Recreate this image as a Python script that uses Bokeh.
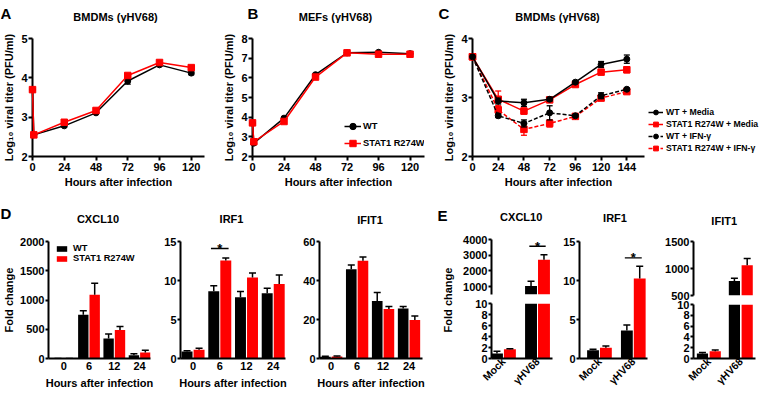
import numpy as np
from bokeh.plotting import figure
from bokeh.layouts import row, column
from bokeh.models import FixedTicker, Legend, LegendItem, Range1d
from bokeh.embed import file_html
from bokeh.resources import INLINE
from bokeh.core.properties import value

FONT = "Liberation Sans"
RED = "#ff0000"
BLACK = "#000000"

# ---------------- data ----------------
hours_AB = [0, 1, 24, 48, 72, 96, 120]
hour_ticks_AB = [0, 24, 48, 72, 96, 120]
A_wt = [3.70, 2.55, 2.78, 3.11, 3.92, 4.33, 4.12]
A_wt_err = [0.0, 0.02, 0.03, 0.03, 0.08, 0.03, 0.04]
A_mut = [3.70, 2.55, 2.87, 3.17, 4.06, 4.39, 4.26]
A_mut_err = [0.0, 0.02, 0.03, 0.03, 0.04, 0.03, 0.04]

B_wt = [3.70, 2.68, 3.95, 6.16, 7.27, 7.30, 7.23]
B_wt_err = [0.0, 0.05, 0.05, 0.05, 0.03, 0.03, 0.03]
B_mut = [3.71, 2.75, 3.78, 6.04, 7.27, 7.20, 7.20]
B_mut_err = [0.0, 0.05, 0.05, 0.05, 0.03, 0.03, 0.03]

hours_C = [0, 24, 48, 72, 96, 120, 144]
C_wt_media = [3.69, 2.94, 2.91, 2.97, 3.26, 3.56, 3.65]
C_wt_media_err = [0.0, 0.05, 0.06, 0.03, 0.02, 0.05, 0.07]
C_mut_media = [3.69, 2.97, 2.77, 2.96, 3.22, 3.43, 3.47]
C_mut_media_err = [0.0, 0.14, 0.05, 0.03, 0.02, 0.04, 0.05]
C_wt_ifn = [3.69, 2.69, 2.56, 2.74, 2.69, 3.03, 3.14]
C_wt_ifn_err = [0.0, 0.03, 0.06, 0.12, 0.02, 0.05, 0.02]
C_mut_ifn = [3.69, 2.79, 2.46, 2.56, 2.68, 2.99, 3.10]
C_mut_ifn_err = [0.0, 0.07, 0.10, 0.06, 0.04, 0.04, 0.03]

D_hours = ["0", "6", "12", "24"]
D_cxcl10_wt = [1.0, 749, 343, 57]
D_cxcl10_wt_err = [0.5, 68, 74, 23]
D_cxcl10_mut = [1.2, 1091, 486, 103]
D_cxcl10_mut_err = [0.5, 195, 63, 40]
D_irf1_wt = [0.90, 8.61, 7.84, 8.36]
D_irf1_wt_err = [0.08, 0.73, 0.76, 0.64]
D_irf1_mut = [1.11, 12.56, 10.40, 9.56]
D_irf1_mut_err = [0.22, 0.34, 0.57, 1.14]
D_ifit1_wt = [0.9, 45.8, 29.5, 25.7]
D_ifit1_wt_err = [0.2, 2.2, 4.3, 1.0]
D_ifit1_mut = [1.0, 50.1, 25.4, 19.7]
D_ifit1_mut_err = [0.3, 2.0, 1.3, 2.1]

E_groups = ["Mock", "γHV68"]
E_cxcl10_wt = [0.90, 1045]
E_cxcl10_wt_err = [0.43, 295]
E_cxcl10_mut = [1.69, 2715]
E_cxcl10_mut_err = [0.10, 321]
E_irf1_wt = [1.05, 3.59]
E_irf1_wt_err = [0.12, 0.72]
E_irf1_mut = [1.39, 10.27]
E_irf1_mut_err = [0.21, 1.56]
E_ifit1_wt = [0.91, 770]
E_ifit1_wt_err = [0.19, 48]
E_ifit1_mut = [1.34, 1062]
E_ifit1_mut_err = [0.24, 125]

# significance marks: (group index, height)
sig_D_irf1 = (1, 14.1)
sig_E_cxcl10 = (1, 3570)
sig_E_irf1 = (1, 12.9)

top_letters = ["A", "B", "C"]
top_titles = ["BMDMs (γHV68)", "MEFs (γHV68)", "BMDMs (γHV68)"]
bottom_letters = ["D", "E"]
bottom_titles = ["CXCL10", "IRF1", "IFIT1", "CXCL10", "IRF1", "IFIT1"]
legend_AB = ["WT", "STAT1 R274W"]
legend_C = ["WT + Media", "STAT1 R274W + Media", "WT + IFN-γ", "STAT1 R274W + IFN-γ"]

# ---------------- layout constants (pixels) ----------------
W = 761
TOP_STRIP_H = 30
TOP_ROW_H = 160
BOT_STRIP_H = 44
BOT_ROW_H = 159
# (x, vertical centre) inside the strips
top_letter_pos = [(0, 13.3), (247, 13.3), (438, 13.3)]
top_title_pos = [(115, 16.0), (335, 16.0), (557, 16.0)]
bottom_letter_pos = [(0, 22.8), (437, 24.5)]
bottom_title_pos = [(97.5, 28.6), (231, 28.5), (369.5, 29.3), (520.7, 26.2), (614.5, 27.2), (723.7, 30.7)]


# ---------------- helpers ----------------
def base_fig(width, height, xr, yr, borders):
    left, right, top, bottom = borders
    p = figure(width=width, height=height, x_range=Range1d(*xr), y_range=Range1d(*yr),
               output_backend="svg", toolbar_location=None, tools="",
               min_border_left=left, min_border_right=right,
               min_border_top=top, min_border_bottom=bottom)
    p.xgrid.visible = False
    p.ygrid.visible = False
    p.outline_line_color = None
    p.background_fill_color = "white"
    p.border_fill_color = "white"
    for ax in p.axis:
        ax.axis_line_width = 2
        ax.axis_line_color = BLACK
        ax.major_tick_line_width = 2
        ax.major_tick_line_color = BLACK
        ax.major_tick_in = 0
        ax.major_tick_out = 4
        ax.minor_tick_line_color = None
        ax.minor_tick_out = 0
        ax.major_label_text_font = FONT
        ax.major_label_text_font_style = "bold"
        ax.major_label_text_font_size = "11px"
        ax.major_label_text_color = BLACK
        ax.major_label_standoff = 1
        ax.axis_label_text_font = FONT
        ax.axis_label_text_font_style = "bold"
        ax.axis_label_text_font_size = "11px"
        ax.axis_label_text_color = BLACK
    return p


def strip(height, letters, letter_pos, titles, title_pos):
    p = figure(width=W, height=height, x_range=Range1d(0, W), y_range=Range1d(height, 0),
               output_backend="svg", toolbar_location=None, tools="", min_border=0,
               x_axis_type=None, y_axis_type=None)
    p.grid.visible = False
    p.outline_line_color = None
    p.text(x=[q[0] for q in letter_pos], y=[q[1] for q in letter_pos], text=letters,
           text_font=value(FONT), text_font_size="15px", text_font_style="bold",
           text_align="left", text_baseline="middle", text_color=BLACK)
    p.text(x=[q[0] for q in title_pos], y=[q[1] for q in title_pos], text=titles,
           text_font=value(FONT), text_font_size="11px", text_font_style="bold",
           text_align="center", text_baseline="middle", text_color=BLACK)
    return p


def titer_series(p, x, y, err, color, marker, size, dash="solid"):
    x = np.array(x, float)
    y = np.array(y, float)
    e = np.array(err, float)
    m = e > 0
    p.segment(x[m], y[m] - e[m], x[m], y[m] + e[m], line_color=color, line_width=1.3, level="overlay")
    p.scatter(np.concatenate([x[m], x[m]]), np.concatenate([y[m] - e[m], y[m] + e[m]]),
              marker="dash", size=6, line_color=color, line_width=1.3, level="overlay")
    ln = p.line(x, y, line_color=color, line_width=1.5, line_dash=dash, level="overlay")
    sc = p.scatter(x, y, marker=marker, size=size, fill_color=color, line_color=color, level="overlay")
    return ln, sc


def titer_axes(p, yticks, xticks):
    p.yaxis.ticker = FixedTicker(ticks=yticks)
    p.xaxis.ticker = FixedTicker(ticks=xticks)
    p.yaxis.axis_label = "Log₁₀ viral titer (PFU/ml)"
    p.yaxis.axis_label_standoff = 3
    p.xaxis.axis_label = "Hours after infection"
    p.xaxis.axis_label_standoff = 2
    p.xaxis.major_label_standoff = 2


def bar_pair(p, wt, wt_err, mut, mut_err, off, w):
    idx = np.arange(len(wt))
    floor = p.y_range.start
    rs = []
    for vals, errs, o, col in ((wt, wt_err, -off, BLACK), (mut, mut_err, off, RED)):
        v = np.array(vals, float)
        e = np.array(errs, float)
        keep = v > floor          # only bars that reach into this axis segment
        xs = (idx + o)[keep]
        v = v[keep]
        e = e[keep]
        r = p.vbar(x=xs, top=v, bottom=0, width=w, fill_color=col, line_color=None)
        p.segment(xs, v, xs, v + e, line_color=BLACK, line_width=1.5)
        p.scatter(xs, v + e, marker="dash", size=7, line_color=BLACK, line_width=1.5)
        rs.append(r)
    return rs


def cat_xaxis(p, labels, standoff=3, rotate=False):
    p.xaxis.ticker = FixedTicker(ticks=list(range(len(labels))))
    p.xaxis.major_label_overrides = {i: lab for i, lab in enumerate(labels)}
    p.xaxis.major_tick_line_color = None
    p.xaxis.major_tick_out = 0
    p.xaxis.major_label_standoff = standoff
    if rotate:
        p.xaxis.major_label_orientation = np.pi / 4
        p.xaxis.major_label_text_font_size = "10.5px"


def hours_label(p):
    p.xaxis.axis_label = "Hours after infection"
    p.xaxis.axis_label_standoff = 4


def sig(p, mark, half):
    xi, y = mark
    p.segment([xi - half], [y], [xi + half], [y], line_color=BLACK, line_width=1.3)
    p.text(x=[xi], y=[y], text=["*"], text_align="center", text_baseline="alphabetic",
           text_font=value(FONT), text_font_style="bold", text_font_size="13px", text_color=BLACK)


def legend(p, items, loc, lh, gh, gw, standoff, size, spacing=1):
    leg = Legend(items=items, location=loc, padding=0, margin=0, spacing=spacing,
                 label_height=lh, glyph_height=gh, glyph_width=gw, label_standoff=standoff,
                 background_fill_alpha=0, border_line_color=None,
                 label_text_font=FONT, label_text_font_style="bold",
                 label_text_font_size=size, label_text_color=BLACK)
    p.add_layout(leg)


# ---------------- top row ----------------
top_strip = strip(TOP_STRIP_H, top_letters, top_letter_pos, top_titles, top_title_pos)

pA = base_fig(220, TOP_ROW_H, (0, 130), (2, 5), (28, 16, 8, 34))
titer_axes(pA, [2, 3, 4, 5], hour_ticks_AB)
titer_series(pA, hours_AB, A_wt, A_wt_err, BLACK, "circle", 6)
titer_series(pA, hours_AB, A_mut, A_mut_err, RED, "square", 6.5)

pB = base_fig(220, TOP_ROW_H, (0, 131), (2, 8), (27, 16, 8, 34))
titer_axes(pB, [2, 3, 4, 5, 6, 7, 8], hour_ticks_AB)
lw, sw = titer_series(pB, hours_AB, B_wt, B_wt_err, BLACK, "circle", 6)
lm, sm = titer_series(pB, hours_AB, B_mut, B_mut_err, RED, "square", 6.5)
legend(pB, [LegendItem(label=legend_AB[0], renderers=[lw, sw]),
            LegendItem(label=legend_AB[1], renderers=[lm, sm])],
       (92, 5), 16, 16, 17, 2, "9.3px")

pC = base_fig(208, TOP_ROW_H, (0, 160.5), (2, 4), (29, 4, 8, 34))
titer_axes(pC, [2, 3, 4], hours_C)
titer_series(pC, hours_C, C_mut_ifn, C_mut_ifn_err, RED, "square", 6.5, "4 2")
titer_series(pC, hours_C, C_wt_ifn, C_wt_ifn_err, BLACK, "circle", 6, "4 2")
titer_series(pC, hours_C, C_mut_media, C_mut_media_err, RED, "square", 6.5)
titer_series(pC, hours_C, C_wt_media, C_wt_media_err, BLACK, "circle", 6)

# legend of panel C lives in its own canvas to the right of the plot
# (its frame is aligned with the row's frames, so the location is frame-relative)
pCleg = figure(width=113, height=TOP_ROW_H, x_range=Range1d(0, 1), y_range=Range1d(0, 1),
               output_backend="svg", toolbar_location=None, tools="",
               min_border_left=0, min_border_right=0, min_border_top=8, min_border_bottom=34,
               x_axis_type=None, y_axis_type=None)
pCleg.grid.visible = False
pCleg.outline_line_color = None
leg_items = []
for lab, col, mk, dash in zip(legend_C, [BLACK, RED, BLACK, RED],
                              ["circle", "square", "circle", "square"],
                              ["solid", "solid", "4 2", "4 2"]):
    l_r = pCleg.line(x=[np.nan], y=[np.nan], line_color=col, line_width=1.5, line_dash=dash)
    s_r = pCleg.scatter(x=[np.nan], y=[np.nan], marker=mk, size=6.5, fill_color=col, line_color=col)
    leg_items.append(LegendItem(label=lab, renderers=[l_r, s_r]))
legend(pCleg, leg_items, (0, 2), 12, 12, 15, 3, "8.7px", spacing=0)

# ---------------- bottom row ----------------
bottom_strip = strip(BOT_STRIP_H, bottom_letters, bottom_letter_pos, bottom_titles, bottom_title_pos)

pD1 = base_fig(160, BOT_ROW_H, (-0.6, 3.43), (0, 2000), (42, 10, 7, 34))
pD1.yaxis.ticker = FixedTicker(ticks=[0, 500, 1000, 1500, 2000])
pD1.yaxis.major_tick_out = 3
pD1.yaxis.axis_label = "Fold change"
pD1.yaxis.axis_label_standoff = 2
cat_xaxis(pD1, D_hours)
hours_label(pD1)
bw, bm = bar_pair(pD1, D_cxcl10_wt, D_cxcl10_wt_err, D_cxcl10_mut, D_cxcl10_mut_err, 0.225, 0.41)
legend(pD1, [LegendItem(label=legend_AB[0], renderers=[bw]), LegendItem(label=legend_AB[1], renderers=[bm])],
       (7, 95), 10, 7, 13, 5, "9.3px", spacing=0)

pD2 = base_fig(140, BOT_ROW_H, (-0.47, 3.46), (0, 15), (20, 15, 7, 34))
pD2.yaxis.ticker = FixedTicker(ticks=[0, 5, 10, 15])
pD2.yaxis.major_tick_out = 3
cat_xaxis(pD2, D_hours)
hours_label(pD2)
bar_pair(pD2, D_irf1_wt, D_irf1_wt_err, D_irf1_mut, D_irf1_mut_err, 0.225, 0.41)
sig(pD2, sig_D_irf1, 0.33)

pD3 = base_fig(138, BOT_ROW_H, (-0.45, 3.52), (0, 60), (17, 16, 7, 34))
pD3.yaxis.ticker = FixedTicker(ticks=[0, 20, 40, 60])
pD3.yaxis.major_tick_out = 3
cat_xaxis(pD3, D_hours)
hours_label(pD3)
bar_pair(pD3, D_ifit1_wt, D_ifit1_wt_err, D_ifit1_mut, D_ifit1_mut_err, 0.225, 0.41)

# y-axis label holder for panel E
pEl = base_fig(20, BOT_ROW_H, (0, 1), (0, 1), (15, 0, 5, 34))
pEl.xaxis.visible = False
pEl.yaxis.ticker = FixedTicker(ticks=[])
pEl.yaxis.axis_line_color = None
pEl.yaxis.major_tick_out = 0
pEl.yaxis.major_label_standoff = 0
pEl.yaxis.axis_label = "Fold change"
pEl.yaxis.axis_label_standoff = 0

# E CXCL10 (broken axis)
pE1t = base_fig(102, 64, (-0.35, 1.44), (500, 4000), (33, 8, 5, 4))
pE1t.xaxis.visible = False
pE1t.yaxis.ticker = FixedTicker(ticks=[1000, 2000, 3000, 4000])
pE1t.yaxis.major_tick_out = 3
bar_pair(pE1t, E_cxcl10_wt, E_cxcl10_wt_err, E_cxcl10_mut, E_cxcl10_mut_err, 0.19, 0.35)
sig(pE1t, sig_E_cxcl10, 0.24)

pE1b = base_fig(102, 95, (-0.35, 1.44), (0, 10), (33, 8, 5, 34))
pE1b.yaxis.ticker = FixedTicker(ticks=[0, 2, 4, 6, 8, 10])
pE1b.yaxis.major_tick_out = 3
cat_xaxis(pE1b, E_groups, standoff=1, rotate=True)
bar_pair(pE1b, E_cxcl10_wt, E_cxcl10_wt_err, E_cxcl10_mut, E_cxcl10_mut_err, 0.19, 0.35)

pE2 = base_fig(102, BOT_ROW_H, (-0.59, 1.42), (0, 15), (18, 15, 7, 34))
pE2.yaxis.ticker = FixedTicker(ticks=[0, 5, 10, 15])
pE2.yaxis.major_tick_out = 3
cat_xaxis(pE2, E_groups, standoff=1, rotate=True)
bar_pair(pE2, E_irf1_wt, E_irf1_wt_err, E_irf1_mut, E_irf1_mut_err, 0.19, 0.35)
sig(pE2, sig_E_irf1, 0.25)

pE3t = base_fig(99, 66, (-0.48, 1.46), (500, 1500), (30, 6, 7, 5))
pE3t.xaxis.visible = False
pE3t.yaxis.ticker = FixedTicker(ticks=[500, 1000, 1500])
pE3t.yaxis.major_tick_out = 3
bar_pair(pE3t, E_ifit1_wt, E_ifit1_wt_err, E_ifit1_mut, E_ifit1_mut_err, 0.2, 0.35)

pE3b = base_fig(99, 93, (-0.48, 1.46), (0, 10), (30, 6, 4, 34))
pE3b.yaxis.ticker = FixedTicker(ticks=[0, 2, 4, 6, 8, 10])
pE3b.yaxis.major_tick_out = 3
cat_xaxis(pE3b, E_groups, standoff=1, rotate=True)
bar_pair(pE3b, E_ifit1_wt, E_ifit1_wt_err, E_ifit1_mut, E_ifit1_mut_err, 0.2, 0.35)

top = row(pA, pB, pC, pCleg)
bottom = row(pD1, pD2, pD3, pEl, column(pE1t, pE1b), pE2, column(pE3t, pE3b))
layout = column(top_strip, top, bottom_strip, bottom)

open("out.html", "w").write(file_html(layout, INLINE))
